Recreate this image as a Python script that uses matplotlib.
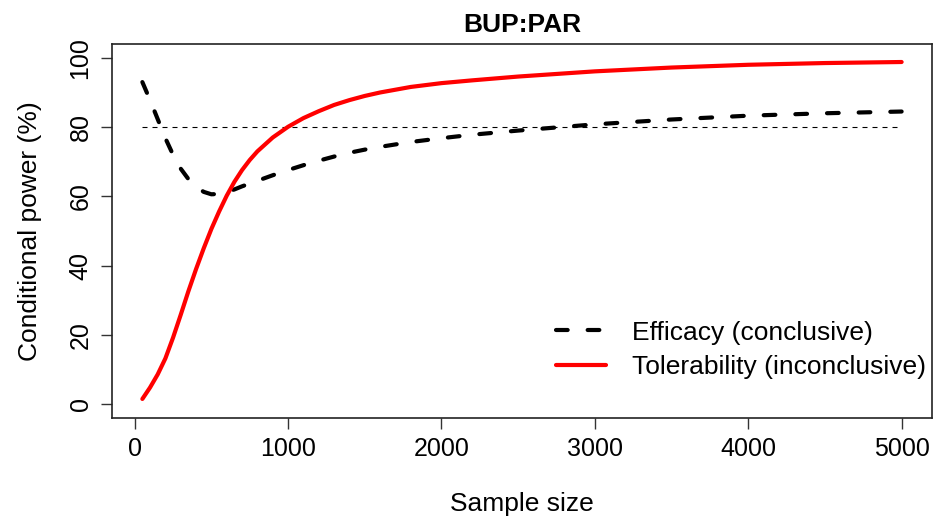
import matplotlib
matplotlib.use("Agg")
import matplotlib.pyplot as plt

plt.rcParams['font.family'] = ['Liberation Sans', 'DejaVu Sans']

eff_x = [50, 100, 150, 200, 250, 300, 350, 400, 450, 500, 550, 600, 650,
         700, 800, 900, 1000, 1100, 1200, 1300, 1400, 1500, 1600, 1800,
         2000, 2200, 2500, 3000, 3500, 4000, 4500, 5000]
efficacy = [93, 87.8, 82.3, 76.8, 72, 68, 65, 62.8, 61.3, 60.6, 60.7, 61.3,
            62, 62.9, 64.5, 66.1, 67.6, 69.0, 70.3, 71.5, 72.6, 73.5, 74.3,
            75.7, 76.8, 77.8, 79, 80.8, 82.2, 83.3, 84, 84.5]
tol_x = [50, 100, 150, 200, 250, 300, 350, 400, 450, 500, 550, 600, 650,
         700, 750, 800, 900, 1000, 1100, 1200, 1300, 1400, 1500, 1600,
         1800, 2000, 2200, 2500, 3000, 3500, 4000, 4500, 5000]
tolerability = [1.5, 4.8, 8.6, 13.2, 19.2, 25.8, 32.6, 39, 45, 50.6, 55.6,
                60.2, 64.2, 67.6, 70.5, 73, 77, 80.1, 82.6, 84.6, 86.4,
                87.8, 89.0, 90.0, 91.6, 92.7, 93.5, 94.6, 96.1, 97.2, 98.0,
                98.5, 98.8]
threshold = 80
xticks = [0, 1000, 2000, 3000, 4000, 5000]
yticks = [0, 20, 40, 60, 80, 100]

fig = plt.figure(figsize=(9.37, 5.17), dpi=100)
ax = fig.add_axes([112/937, 1 - 418/517, (932-112)/937, (418-44)/517])

ax.hlines(threshold, eff_x[0], eff_x[-1], colors='black',
          linewidth=0.8, linestyles=(0, (4.5, 4.5)))
ax.plot(eff_x, efficacy, color='black', linewidth=3,
        linestyle=(0, (2.8, 4.8)), dash_capstyle='round',
        solid_joinstyle='round', label='Efficacy (conclusive)')
ax.plot(tol_x, tolerability, color='#FF0000', linewidth=3,
        solid_capstyle='round', solid_joinstyle='round',
        label='Tolerability (inconclusive)')

xmin, xmax = 50, 5000
pad = (xmax - xmin) * 0.04
ax.set_xlim(xmin - pad, xmax + pad)
ax.set_ylim(-4, 104)
ax.set_xticks(xticks)
ax.set_yticks(yticks)
ax.set_yticklabels([str(v) for v in yticks], rotation=90, va='center')
ax.tick_params(axis='both', length=8, width=1, labelsize=18, color='#333333')
ax.tick_params(axis='x', pad=6)
ax.tick_params(axis='y', pad=6)
for s in ax.spines.values():
    s.set_linewidth(1.2)
    s.set_color('#222222')

ax.set_title('BUP:PAR', fontsize=19, fontweight='bold', pad=9)
ax.set_xlabel('Sample size', fontsize=19, labelpad=22)
ax.set_ylabel('Conditional power (%)', fontsize=19, labelpad=19)

leg = ax.legend(frameon=False, fontsize=19, loc='upper left',
                bbox_to_anchor=((545-112)/820, (418-310)/374),
                handlelength=1.9, handletextpad=1.0, labelspacing=0.4,
                borderaxespad=0)

fig.savefig('out.png', dpi=100)
